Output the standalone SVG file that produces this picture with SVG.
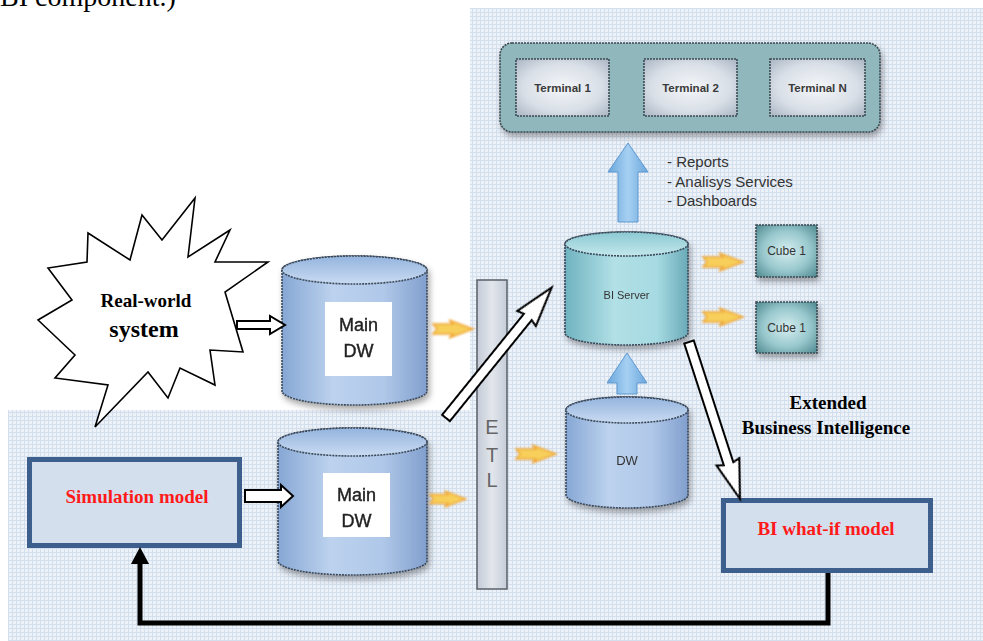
<svg xmlns="http://www.w3.org/2000/svg" width="983" height="641" viewBox="0 0 983 641">
<defs>
  <pattern id="grid" width="4" height="4" patternUnits="userSpaceOnUse">
    <rect width="4" height="4" fill="#edf2f9"/>
    <path d="M0 0.5H4M0.5 0V4" stroke="#d3dfed" stroke-width="1"/>
  </pattern>
  <linearGradient id="cylBlue" x1="0" y1="0" x2="1" y2="0">
    <stop offset="0" stop-color="#86a7d4"/>
    <stop offset="0.35" stop-color="#bcd2ee"/>
    <stop offset="0.7" stop-color="#b0c8e9"/>
    <stop offset="1" stop-color="#819fcd"/>
  </linearGradient>
  <linearGradient id="cylTeal" x1="0" y1="0" x2="1" y2="0">
    <stop offset="0" stop-color="#6fb3c0"/>
    <stop offset="0.4" stop-color="#b2e0e6"/>
    <stop offset="0.75" stop-color="#a6dae2"/>
    <stop offset="1" stop-color="#6aaab8"/>
  </linearGradient>
  <linearGradient id="topBlue" x1="0" y1="0" x2="0" y2="1">
    <stop offset="0" stop-color="#94b4de"/>
    <stop offset="1" stop-color="#c9dbf2"/>
  </linearGradient>
  <linearGradient id="topTeal" x1="0" y1="0" x2="0" y2="1">
    <stop offset="0" stop-color="#8cc9d3"/>
    <stop offset="1" stop-color="#c3e8ec"/>
  </linearGradient>
  <radialGradient id="term" cx="0.5" cy="0.5" r="0.7">
    <stop offset="0" stop-color="#f4f6f9"/>
    <stop offset="0.6" stop-color="#d9dfe7"/>
    <stop offset="1" stop-color="#aab6c4"/>
  </radialGradient>
  <radialGradient id="cube" cx="0.5" cy="0.5" r="0.7">
    <stop offset="0" stop-color="#d6eef0"/>
    <stop offset="0.55" stop-color="#98c8cd"/>
    <stop offset="1" stop-color="#4f8990"/>
  </radialGradient>
  <linearGradient id="etl" x1="0" y1="0" x2="1" y2="0">
    <stop offset="0" stop-color="#c4cbd6"/>
    <stop offset="0.5" stop-color="#e2e6ec"/>
    <stop offset="1" stop-color="#c6cdd8"/>
  </linearGradient>
  <linearGradient id="blueArrow" x1="0" y1="0" x2="1" y2="0">
    <stop offset="0" stop-color="#6aa6dc"/>
    <stop offset="0.5" stop-color="#a6d0f2"/>
    <stop offset="1" stop-color="#6aa6dc"/>
  </linearGradient>
  <filter id="shadow" x="-20%" y="-20%" width="140%" height="140%">
    <feDropShadow dx="2" dy="4" stdDeviation="3" flood-color="#000" flood-opacity="0.35"/>
  </filter>
  <filter id="glow" x="-30%" y="-60%" width="160%" height="220%">
    <feGaussianBlur stdDeviation="1.2"/>
  </filter>
  <path id="yarrow" d="M0 -5 L20 -5 L16 -9 L40 0 L16 9 L20 5 L0 5 L4 0 Z"/>
</defs>
<style>
  .cylstroke { stroke:#3b4858; stroke-width:1.6; stroke-dasharray:2 1; }
  .dash { stroke:#3b4a52; stroke-width:1.6; stroke-dasharray:2 1; }
  .lbl { font-family:"Liberation Sans", Arial, sans-serif; fill:#333; }
  .term { font-family:"Liberation Sans", Arial, sans-serif; fill:#3a3a3a; font-weight:bold; font-size:11.5px; }
  .dwl { font-family:"Liberation Sans", Arial, sans-serif; fill:#222; font-size:18px; stroke:#222; stroke-width:0.4; }
  .ser { font-family:"Liberation Serif", "Times New Roman", serif; font-weight:bold; }
  .red { fill:#ff1a1a; }
  .wa { fill:#fff; stroke:#000; stroke-width:2; stroke-linejoin:miter; }
  .ya { fill:#f7cf5a; stroke:#f0a431; stroke-width:1.5; }
  .box { fill:#d4dfee; stroke:#3d5f8d; stroke-width:5; }
</style>

<rect width="983" height="641" fill="#fff"/>
<path d="M470 8 H983 V641 H8 V410 H470 Z" fill="url(#grid)"/>

<text x="0" y="6" font-family="'Liberation Serif', 'Times New Roman', serif" font-size="28" fill="#000">BI component.)</text>

<g id="terminals">
  <rect x="500" y="43" width="380" height="89" rx="12" fill="#8fb7bc" class="dash" filter="url(#shadow)"/>
  <g id="terminal1">
    <rect x="516" y="59" width="93" height="57" fill="url(#term)" class="dash"/>
    <text x="562.5" y="92" text-anchor="middle" class="term">Terminal 1</text>
  </g>
  <g id="terminal2">
    <rect x="644" y="59" width="93" height="57" fill="url(#term)" class="dash"/>
    <text x="690.5" y="92" text-anchor="middle" class="term">Terminal 2</text>
  </g>
  <g id="terminalN">
    <rect x="770" y="59" width="95" height="57" fill="url(#term)" class="dash"/>
    <text x="817.5" y="92" text-anchor="middle" class="term">Terminal N</text>
  </g>
</g>

<g id="services-label">
  <text x="667" y="167" font-size="15" class="lbl">- Reports</text>
  <text x="667" y="187" font-size="15" class="lbl">- Analisys Services</text>
  <text x="667" y="206" font-size="15" class="lbl">- Dashboards</text>
</g>

<g id="bi-server" filter="url(#shadow)">
  <path d="M565 244 V333 A61.5 12 0 0 0 688 333 V244 A61.5 12 0 0 0 565 244 Z" fill="url(#cylTeal)" class="cylstroke"/>
  <ellipse cx="626.5" cy="244" rx="61.5" ry="12" fill="url(#topTeal)" class="cylstroke"/>
  <text x="626.5" y="299" text-anchor="middle" font-size="11" class="lbl">BI Server</text>
</g>

<g id="cube1a">
  <rect x="756" y="225" width="61" height="52" fill="url(#cube)" class="dash" filter="url(#shadow)"/>
  <text x="786.5" y="255" text-anchor="middle" font-size="12" class="lbl">Cube 1</text>
</g>
<g id="cube1b">
  <rect x="756" y="302" width="61" height="51" fill="url(#cube)" class="dash" filter="url(#shadow)"/>
  <text x="786.5" y="332" text-anchor="middle" font-size="12" class="lbl">Cube 1</text>
</g>

<g id="dw" filter="url(#shadow)">
  <path d="M566 410 V495 A61 13 0 0 0 688 495 V410 A61 13 0 0 0 566 410 Z" fill="url(#cylBlue)" class="cylstroke"/>
  <ellipse cx="627" cy="410" rx="61" ry="13" fill="url(#topBlue)" class="cylstroke"/>
  <text x="627" y="465" text-anchor="middle" font-size="13" class="lbl">DW</text>
</g>

<g id="etl-bar">
  <rect x="477" y="280" width="30" height="309" fill="url(#etl)" stroke="#5a6068" stroke-width="1.5"/>
  <text x="492" y="434" text-anchor="middle" font-size="20" fill="#666" font-family="'Liberation Sans', Arial, sans-serif">E</text>
  <text x="492" y="462" text-anchor="middle" font-size="20" fill="#666" font-family="'Liberation Sans', Arial, sans-serif">T</text>
  <text x="492" y="487" text-anchor="middle" font-size="20" fill="#666" font-family="'Liberation Sans', Arial, sans-serif">L</text>
</g>

<g id="main-dw-top" filter="url(#shadow)">
  <path d="M282 270 V391 A72.5 14 0 0 0 427 391 V270 A72.5 14 0 0 0 282 270 Z" fill="url(#cylBlue)" class="cylstroke"/>
  <ellipse cx="354.5" cy="270" rx="72.5" ry="14" fill="url(#topBlue)" class="cylstroke"/>
  <rect x="325" y="302" width="67" height="74" fill="#fff"/>
  <text x="358.5" y="331" text-anchor="middle" class="dwl">Main</text>
  <text x="358.5" y="357" text-anchor="middle" class="dwl">DW</text>
</g>

<g id="main-dw-bottom" filter="url(#shadow)">
  <path d="M278 442 V561 A74.5 14 0 0 0 427 561 V442 A74.5 14 0 0 0 278 442 Z" fill="url(#cylBlue)" class="cylstroke"/>
  <ellipse cx="352.5" cy="442" rx="74.5" ry="14" fill="url(#topBlue)" class="cylstroke"/>
  <rect x="323" y="473" width="67" height="64" fill="#fff"/>
  <text x="356.5" y="501" text-anchor="middle" class="dwl">Main</text>
  <text x="356.5" y="527" text-anchor="middle" class="dwl">DW</text>
</g>

<g id="real-world-system">
  <polygon points="88,233 130,260 142,215 162,240 195,198 188,257 230,230 215,262 268,262 225,292 243,352 210,350 215,385 180,368 168,398 148,372 95,427 108,385 55,378 75,355 38,320 72,300 48,268 87,262" fill="#fff" stroke="#000" stroke-width="1.6" stroke-linejoin="miter"/>
  <text x="146" y="307" text-anchor="middle" font-size="19" class="ser">Real-world</text>
  <text x="144" y="337" text-anchor="middle" font-size="24" class="ser">system</text>
</g>

<g id="simulation-model">
  <rect x="29.5" y="459.5" width="210" height="86" class="box"/>
  <text x="137" y="503" text-anchor="middle" font-size="19" class="ser red">Simulation model</text>
</g>

<g id="bi-what-if-model">
  <rect x="723.5" y="500.5" width="207" height="70" class="box"/>
  <text x="826" y="535" text-anchor="middle" font-size="19" class="ser red">BI what-if model</text>
</g>

<g id="extended-bi-label">
  <text x="828" y="409" text-anchor="middle" font-size="19" class="ser">Extended</text>
  <text x="826" y="434" text-anchor="middle" font-size="19" class="ser">Business Intelligence</text>
</g>

<g id="connectors">
  <path d="M628 143 L648 172 L638 172 L638 222 L618 222 L618 172 L608 172 Z" fill="url(#blueArrow)" stroke="#5d97cf" stroke-width="1"/>
  <path d="M627 353 L647 383 L637 383 L637 394 L617 394 L617 383 L607 383 Z" fill="url(#blueArrow)" stroke="#5d97cf" stroke-width="1"/>
  <g filter="url(#glow)">
    <use href="#yarrow" class="ya" transform="translate(433 329)"/>
    <use href="#yarrow" class="ya" transform="translate(430 499) scale(0.9)"/>
    <use href="#yarrow" class="ya" transform="translate(516 454)"/>
    <use href="#yarrow" class="ya" transform="translate(703 262)"/>
    <use href="#yarrow" class="ya" transform="translate(703 317)"/>
  </g>
  <polygon class="wa" points="237,321 270,321 270,316 285,325 270,334 270,329 237,329"/>
  <polygon class="wa" points="245,490 281,490 281,485 293,496 281,507 281,502 245,502"/>
  <polygon class="wa" transform="translate(446 418) rotate(-51)" points="0,-5 130,-5 128,-12 168,0 128,12 130,5 0,5"/>
  <polygon class="wa" transform="translate(689 342) rotate(72)" points="0,-5 128,-5 126,-12 165,0 126,12 128,5 0,5"/>
  <path d="M828 573 V623 H140 V560" fill="none" stroke="#000" stroke-width="5"/>
  <path d="M140 547 L149 564 L131 564 Z" fill="#000"/>
</g>
</svg>
